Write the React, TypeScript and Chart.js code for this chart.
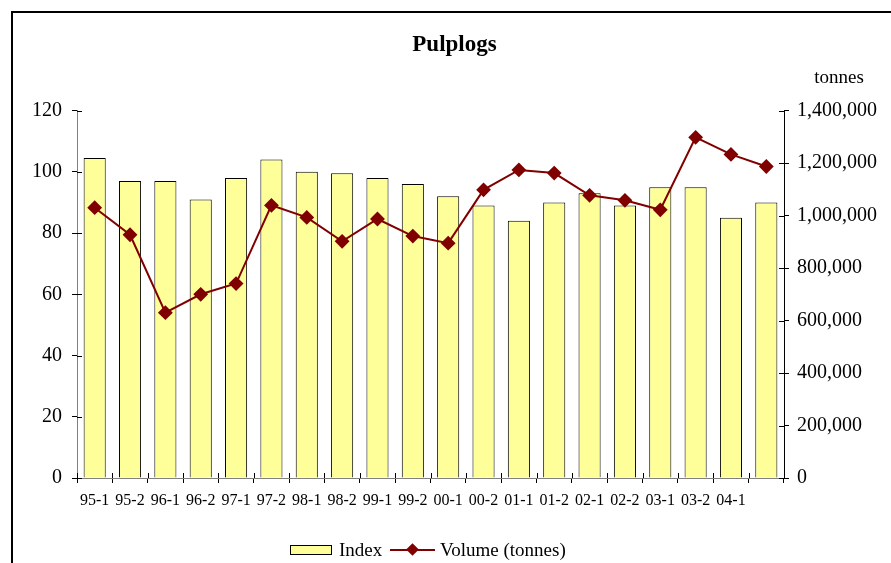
import React, { useEffect, useRef } from "react";
import { Chart, registerables } from "chart.js";

Chart.register(...registerables);

const categories = ["95-1", "95-2", "96-1", "96-2", "97-1", "97-2", "98-1", "98-2", "99-1", "99-2", "00-1", "00-2", "01-1", "01-2", "02-1", "02-2", "03-1", "03-2", "04-1", ""];
const indexValues = [104.5, 97, 97, 91, 98, 104, 100, 99.5, 98, 96, 92, 89, 84, 90, 93, 89, 95, 95, 85, 90];
const volumeValues = [1030000, 927000, 630000, 700000, 741000, 1039000, 993000, 902000, 987000, 922000, 895000, 1098000, 1174000, 1162000, 1077000, 1058000, 1022000, 1298000, 1233000, 1187000];

const chartTitle = "Pulplogs";
const rightAxisLabel = "tonnes";
const indexLabel = "Index";
const volumeLabel = "Volume (tonnes)";

const FONT = '"Liberation Serif", "Times New Roman", serif';
const BAR_FILL = "#FFFF99";
const LINE_COLOR = "#800000";

const decorPlugin = {
  id: "decor",
  afterDraw(chart: any) {
    const ctx = chart.ctx;
    const { left, right, bottom } = chart.chartArea;
    ctx.save();
    ctx.strokeStyle = "#000";
    ctx.lineWidth = 1;
    const ys = chart.scales.y;
    ys.ticks.forEach((t: any) => {
      const py = Math.round(ys.getPixelForValue(t.value)) + 0.5;
      ctx.beginPath();
      ctx.moveTo(left, py);
      ctx.lineTo(left + 5, py);
      ctx.stroke();
    });
    const y1 = chart.scales.y1;
    y1.ticks.forEach((t: any) => {
      const py = Math.round(y1.getPixelForValue(t.value)) + 0.5;
      ctx.beginPath();
      ctx.moveTo(right - 5, py);
      ctx.lineTo(right, py);
      ctx.stroke();
    });
    const n = categories.length;
    for (let i = 0; i <= n; i++) {
      const px = Math.round(left + (i * (right - left)) / n) + 0.5;
      ctx.beginPath();
      ctx.moveTo(px, bottom - 5);
      ctx.lineTo(px, bottom);
      ctx.stroke();
    }
    ctx.lineWidth = 2;
    ctx.strokeRect(12, 12, 2000, 2000);
    ctx.fillStyle = "#000";
    ctx.font = `19px ${FONT}`;
    ctx.textAlign = "center";
    ctx.textBaseline = "middle";
    ctx.fillText(rightAxisLabel, 839, 78);
    ctx.restore();
  },
};

export default function App() {
  const ref = useRef<HTMLCanvasElement | null>(null);

  useEffect(() => {
    if (!ref.current) return;
    const chart = new Chart(ref.current, {
      type: "bar",
      data: {
        labels: categories,
        datasets: [
          {
            type: "line",
            label: volumeLabel,
            data: volumeValues,
            yAxisID: "y1",
            borderColor: LINE_COLOR,
            backgroundColor: LINE_COLOR,
            borderWidth: 2,
            pointStyle: "rectRot",
            pointRadius: 6,
            pointBackgroundColor: LINE_COLOR,
            pointBorderColor: LINE_COLOR,
            tension: 0,
            order: 1,
          } as any,
          {
            type: "bar",
            label: indexLabel,
            data: indexValues,
            yAxisID: "y",
            backgroundColor: BAR_FILL,
            borderColor: "#000",
            borderWidth: 1,
            barPercentage: 0.625,
            categoryPercentage: 1,
            order: 2,
          },
        ],
      },
      options: {
        animation: false,
        responsive: false,
        maintainAspectRatio: false,
        layout: { padding: { left: 18, right: 0, top: 0, bottom: 0 } },
        plugins: {
          legend: { display: false },
          tooltip: { enabled: false },
          title: {
            display: true,
            text: chartTitle,
            color: "#000",
            font: { family: FONT, size: 23, weight: "bold" },
            padding: { top: 31, bottom: 52 },
          },
        },
        scales: {
          x: {
            offset: true,
            afterFit(scale: any) {
              scale.height = 85;
            },
            grid: { offset: true, drawOnChartArea: false, drawTicks: true, tickLength: 5, color: "#000" },
            border: { display: true, color: "#808080", width: 1 },
            ticks: { color: "#000", font: { family: FONT, size: 16 }, padding: 8, maxRotation: 0, autoSkip: false },
          },
          y: {
            position: "left",
            min: 0,
            max: 120,
            afterFit(scale: any) {
              scale.width = 59;
            },
            grid: { drawOnChartArea: false, drawTicks: true, tickLength: 5, color: "#000" },
            border: { display: true, color: "#808080", width: 1 },
            ticks: { stepSize: 20, color: "#000", font: { family: FONT, size: 20 }, padding: 10 },
          },
          y1: {
            position: "right",
            min: 0,
            max: 1400000,
            afterFit(scale: any) {
              scale.width = 107;
            },
            grid: { drawOnChartArea: false, drawTicks: true, tickLength: 5, color: "#000" },
            border: { display: true, color: "#000", width: 1 },
            ticks: {
              stepSize: 200000,
              color: "#000",
              font: { family: FONT, size: 20 },
              padding: 8,
              callback: (v: any) => Number(v).toLocaleString("en-US"),
            },
          },
        },
      },
      plugins: [decorPlugin],
    });
    return () => chart.destroy();
  }, []);

  return (
    <div style={{ position: "absolute", left: 0, top: 0, width: 891, height: 563, overflow: "hidden", background: "#fff" }}>
      <canvas ref={ref} width={891} height={563} style={{ display: "block", width: 891, height: 563 }} />
      <div style={{ position: "absolute", left: 290, top: 545, width: 40, height: 8, background: BAR_FILL, border: "1px solid #000" }} />
      <span style={{ position: "absolute", left: 339, top: 539, fontFamily: FONT, fontSize: 19, lineHeight: "22px", color: "#000", whiteSpace: "nowrap" }}>{indexLabel}</span>
      <div style={{ position: "absolute", left: 390, top: 549, width: 45, height: 2, background: LINE_COLOR }} />
      <div style={{ position: "absolute", left: 408, top: 545, width: 9, height: 9, background: LINE_COLOR, transform: "rotate(45deg)" }} />
      <span style={{ position: "absolute", left: 440, top: 539, fontFamily: FONT, fontSize: 19, lineHeight: "22px", color: "#000", whiteSpace: "nowrap" }}>{volumeLabel}</span>
    </div>
  );
}
